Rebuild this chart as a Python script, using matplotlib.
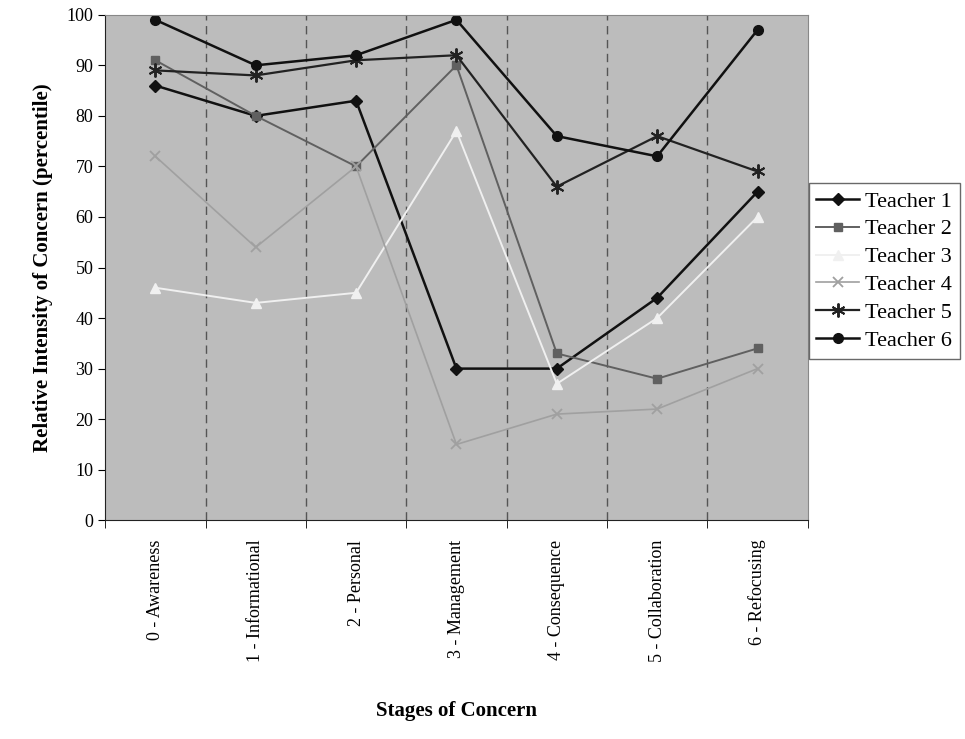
import matplotlib
matplotlib.use("Agg")
import matplotlib.pyplot as plt
import numpy as np

plt.rcParams['font.family'] = ['Liberation Serif', 'DejaVu Serif']

stages = ["0 - Awareness", "1 - Informational", "2 - Personal", "3 - Management",
          "4 - Consequence", "5 - Collaboration", "6 - Refocusing"]
teacher1 = [86, 80, 83, 30, 30, 44, 65]
teacher2 = [91, 80, 70, 90, 33, 28, 34]
teacher3 = [46, 43, 45, 77, 27, 40, 60]
teacher4 = [72, 54, 70, 15, 21, 22, 30]
teacher5 = [89, 88, 91, 92, 66, 76, 69]
teacher6 = [99, 90, 92, 99, 76, 72, 97]
names = ["Teacher 1", "Teacher 2", "Teacher 3", "Teacher 4", "Teacher 5", "Teacher 6"]
series = [teacher1, teacher2, teacher3, teacher4, teacher5, teacher6]

styles = [
    dict(color='#111111', marker='D', ms=6, lw=1.8),
    dict(color='#606060', marker='s', ms=6, lw=1.4),
    dict(color='#f0f0f0', marker='^', ms=7, lw=1.4),
    dict(color='#a0a0a0', marker='x', ms=7, lw=1.2, mew=1.3),
    dict(color='#222222', marker=(6, 2, 0), ms=10, lw=1.6, mew=1.4),
    dict(color='#111111', marker='o', ms=7, lw=1.8),
]

fig = plt.figure(figsize=(9.65, 7.39), dpi=100)
ax = fig.add_axes([0.109, 0.296, 0.728, 0.684])
ax.set_facecolor('#bcbcbc')

x = np.arange(len(stages))
for s, n, st in zip(series, names, styles):
    ax.plot(x, s, label=n, **st)

ax.set_xlim(-0.5, len(stages) - 0.5)
ax.set_ylim(0, 100)
ax.set_yticks(np.arange(0, 101, 10))
ax.set_xticks(x)
ax.set_xticklabels(stages, rotation=90, fontsize=13)
ax.tick_params(axis='x', length=0, pad=14)
ax.set_xticks(np.arange(-0.5, len(stages), 1), minor=True)
ax.tick_params(axis='x', which='minor', length=6, direction='out')
ax.tick_params(axis='y', labelsize=13, length=5, direction='out')
for b in np.arange(0.5, len(stages) - 0.5, 1):
    ax.axvline(b, color='#555555', ls=(0, (6, 4)), lw=1.0, zorder=0.5)

for sp in ['top', 'right']:
    ax.spines[sp].set_color('#888888')
ax.spines['left'].set_color('#222222')
ax.spines['bottom'].set_color('#222222')

ax.set_xlabel("Stages of Concern", fontsize=15, fontweight='bold', labelpad=28)
ax.set_ylabel("Relative Intensity of Concern (percentile)", fontsize=15, fontweight='bold', labelpad=10)

leg = fig.legend(loc='upper left', bbox_to_anchor=(0.838, 0.752), fontsize=16,
                 frameon=True, fancybox=False, edgecolor='#444444',
                 handlelength=1.9, handletextpad=0.3, labelspacing=0.33,
                 borderpad=0.35, borderaxespad=0.0)
leg.get_frame().set_linewidth(1.0)

fig.savefig("out.png", dpi=100, facecolor='white')
